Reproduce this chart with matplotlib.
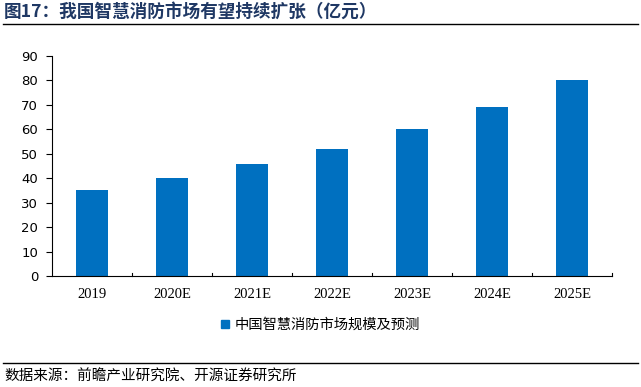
import matplotlib
matplotlib.use("Agg")
import matplotlib.pyplot as plt
from matplotlib.lines import Line2D

categories = ["2019", "2020E", "2021E", "2022E", "2023E", "2024E", "2025E"]
values = [35, 40, 46, 52, 60, 69, 80]
series_name = "中国智慧消防市场规模及预测"
title = "图17：我国智慧消防市场有望持续扩张（亿元）"
source = "数据来源：前瞻产业研究院、开源证券研究所"
yticks = list(range(0, 91, 10))

cjk = ["Noto Sans CJK SC", "DejaVu Sans"]

fig = plt.figure(figsize=(6.41, 3.87), dpi=100)
ax = fig.add_axes([52/641, 1-276/387, (612-52)/641, (276-56)/387])

x = list(range(len(categories)))
ax.bar(x, values, width=0.41, color="#0070C0", label=series_name, zorder=2)
ax.set_xlim(-0.5, len(categories)-0.5)
ax.set_ylim(0, 90)
ax.set_yticks(yticks)
ax.set_yticklabels([str(v) for v in yticks], fontsize=9.5, family="DejaVu Sans")
ax.set_xticks(x)
ax.set_xticklabels(categories, fontsize=10.5, family="Liberation Serif")
ax.tick_params(axis="x", length=0, pad=9)
ax.tick_params(axis="y", direction="out", length=4, width=0.8, pad=6)
for b in [i + 0.5 for i in range(len(categories))]:
    ax.plot([b, b], [0, 1.2], color="black", lw=0.8, clip_on=False, zorder=3)
ax.spines["top"].set_visible(False)
ax.spines["right"].set_visible(False)
ax.spines["left"].set_linewidth(0.8)
ax.spines["bottom"].set_linewidth(0.8)

leg = fig.legend(handles=[plt.Rectangle((0, 0), 1, 1, color="#0070C0")], labels=[series_name],
                 loc="center left", bbox_to_anchor=(208/641, 1-325/387), frameon=False,
                 handlelength=0.55, handleheight=0.55, handletextpad=0.4,
                 prop={"family": cjk, "size": 10.3})

fig.text(4/641, 1-12/387, title, fontsize=12.7, fontweight="bold", color="#1F3864",
         family=cjk, va="center", ha="left")
fig.add_artist(Line2D([3/641, 638/641], [1-24/387, 1-24/387], color="black", lw=1))
fig.add_artist(Line2D([3/641, 638/641], [1-363/387, 1-363/387], color="black", lw=1))
fig.text(4/641, 1-377/387, source, fontsize=10.5, color="black", family=cjk,
         va="center", ha="left")

fig.savefig("out.png", dpi=100)
